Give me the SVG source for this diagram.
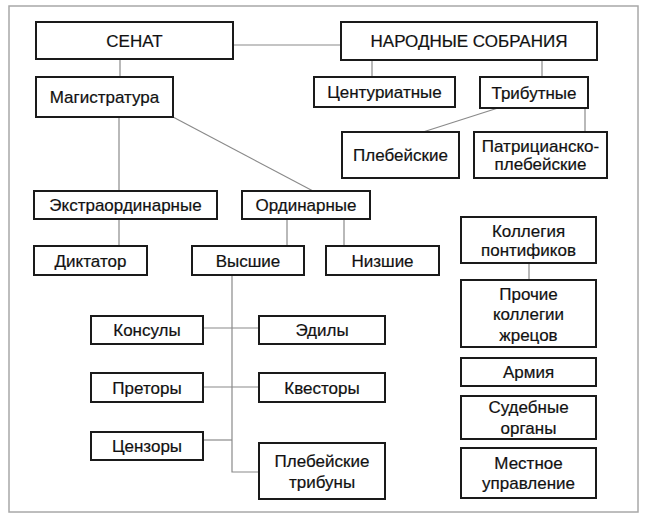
<svg xmlns="http://www.w3.org/2000/svg" width="656" height="525" viewBox="0 0 656 525">
<style>
.b{fill:#fff;stroke:#1a1a1a;stroke-width:2}
.t{font-family:"Liberation Sans",Arial,sans-serif;font-size:17px;fill:#111;text-anchor:middle;stroke:#111;stroke-width:0.2}
.c{stroke:#8a8a8a;stroke-width:1.2;fill:none}
</style>
<rect width="656" height="525" fill="#fff"/>
<rect x="9" y="6" width="629" height="506" fill="none" stroke="#a8a8a8" stroke-width="1.5"/>
<g id="connectors" class="c">
<line x1="233" y1="45" x2="341" y2="45"/>
<line x1="120" y1="59" x2="120" y2="77"/>
<line x1="372" y1="60" x2="372" y2="77"/>
<line x1="542" y1="60" x2="542" y2="77"/>
<line x1="498" y1="108" x2="423" y2="132"/>
<line x1="585" y1="108" x2="585" y2="132"/>
<line x1="119" y1="117" x2="119" y2="191"/>
<line x1="173" y1="117" x2="313" y2="191"/>
<line x1="119" y1="219" x2="119" y2="246"/>
<line x1="287" y1="219" x2="287" y2="246"/>
<line x1="344" y1="219" x2="344" y2="246"/>
<polyline points="232,275 232,472 259,472"/>
<line x1="203" y1="328" x2="259" y2="328"/>
<line x1="203" y1="387" x2="259" y2="387"/>
<line x1="203" y1="440" x2="232" y2="440"/>
<line x1="529" y1="263" x2="529" y2="280"/>
</g>
<g id="senat"><rect class="b" x="36" y="22" width="197" height="37"/><text class="t" x="134.5" y="46.5">СЕНАТ</text></g>
<g id="narodnye"><rect class="b" x="341" y="22" width="256" height="38"/><text class="t" x="469" y="47">НАРОДНЫЕ СОБРАНИЯ</text></g>
<g id="magistratura"><rect class="b" x="36" y="77" width="137" height="40"/><text class="t" x="104.5" y="103">Магистратура</text></g>
<g id="centuriatnye"><rect class="b" x="314" y="77" width="141" height="30"/><text class="t" x="384.5" y="98">Центуриатные</text></g>
<g id="tributnye"><rect class="b" x="480" y="77" width="108" height="31"/><text class="t" x="534" y="98.5">Трибутные</text></g>
<g id="plebeiskie"><rect class="b" x="342" y="132" width="117" height="46"/><text class="t" x="400.5" y="161">Плебейские</text></g>
<g id="patricianskie"><rect class="b" x="474" y="132" width="133" height="46"/><text class="t" x="540.5" y="152">Патрицианско-</text><text class="t" x="540.5" y="170">плебейские</text></g>
<g id="ekstraordinarnye"><rect class="b" x="34" y="191" width="183" height="28"/><text class="t" x="125.5" y="211">Экстраординарные</text></g>
<g id="ordinarnye"><rect class="b" x="242" y="191" width="128" height="28"/><text class="t" x="306" y="211">Ординарные</text></g>
<g id="diktator"><rect class="b" x="34" y="246" width="113" height="29"/><text class="t" x="90.5" y="266.5">Диктатор</text></g>
<g id="vysshie"><rect class="b" x="192" y="246" width="112" height="29"/><text class="t" x="248" y="266.5">Высшие</text></g>
<g id="nizshie"><rect class="b" x="326" y="246" width="113" height="29"/><text class="t" x="382.5" y="266.5">Низшие</text></g>
<g id="konsuly"><rect class="b" x="91" y="316" width="112" height="28"/><text class="t" x="147" y="336">Консулы</text></g>
<g id="edily"><rect class="b" x="259" y="316" width="126" height="28"/><text class="t" x="322" y="336">Эдилы</text></g>
<g id="pretory"><rect class="b" x="91" y="373" width="112" height="29"/><text class="t" x="147" y="393.5">Преторы</text></g>
<g id="kvestory"><rect class="b" x="259" y="373" width="126" height="29"/><text class="t" x="322" y="393.5">Квесторы</text></g>
<g id="cenzory"><rect class="b" x="91" y="432" width="112" height="28"/><text class="t" x="147" y="452">Цензоры</text></g>
<g id="plebtribuny"><rect class="b" x="259" y="443" width="126" height="56"/><text class="t" x="322" y="467">Плебейские</text><text class="t" x="322" y="488">трибуны</text></g>
<g id="pontifiki"><rect class="b" x="461" y="217" width="135" height="46"/><text class="t" x="528.5" y="237">Коллегия</text><text class="t" x="528.5" y="256">понтификов</text></g>
<g id="zhrecy"><rect class="b" x="461" y="280" width="135" height="67"/><text class="t" x="528.5" y="300">Прочие</text><text class="t" x="528.5" y="320">коллегии</text><text class="t" x="528.5" y="341">жрецов</text></g>
<g id="armiya"><rect class="b" x="461" y="358" width="135" height="28"/><text class="t" x="528.5" y="378">Армия</text></g>
<g id="sud"><rect class="b" x="461" y="396" width="135" height="43"/><text class="t" x="528.5" y="413">Судебные</text><text class="t" x="528.5" y="434">органы</text></g>
<g id="mestnoe"><rect class="b" x="461" y="448" width="135" height="50"/><text class="t" x="528.5" y="469">Местное</text><text class="t" x="528.5" y="489">управление</text></g>
</svg>
